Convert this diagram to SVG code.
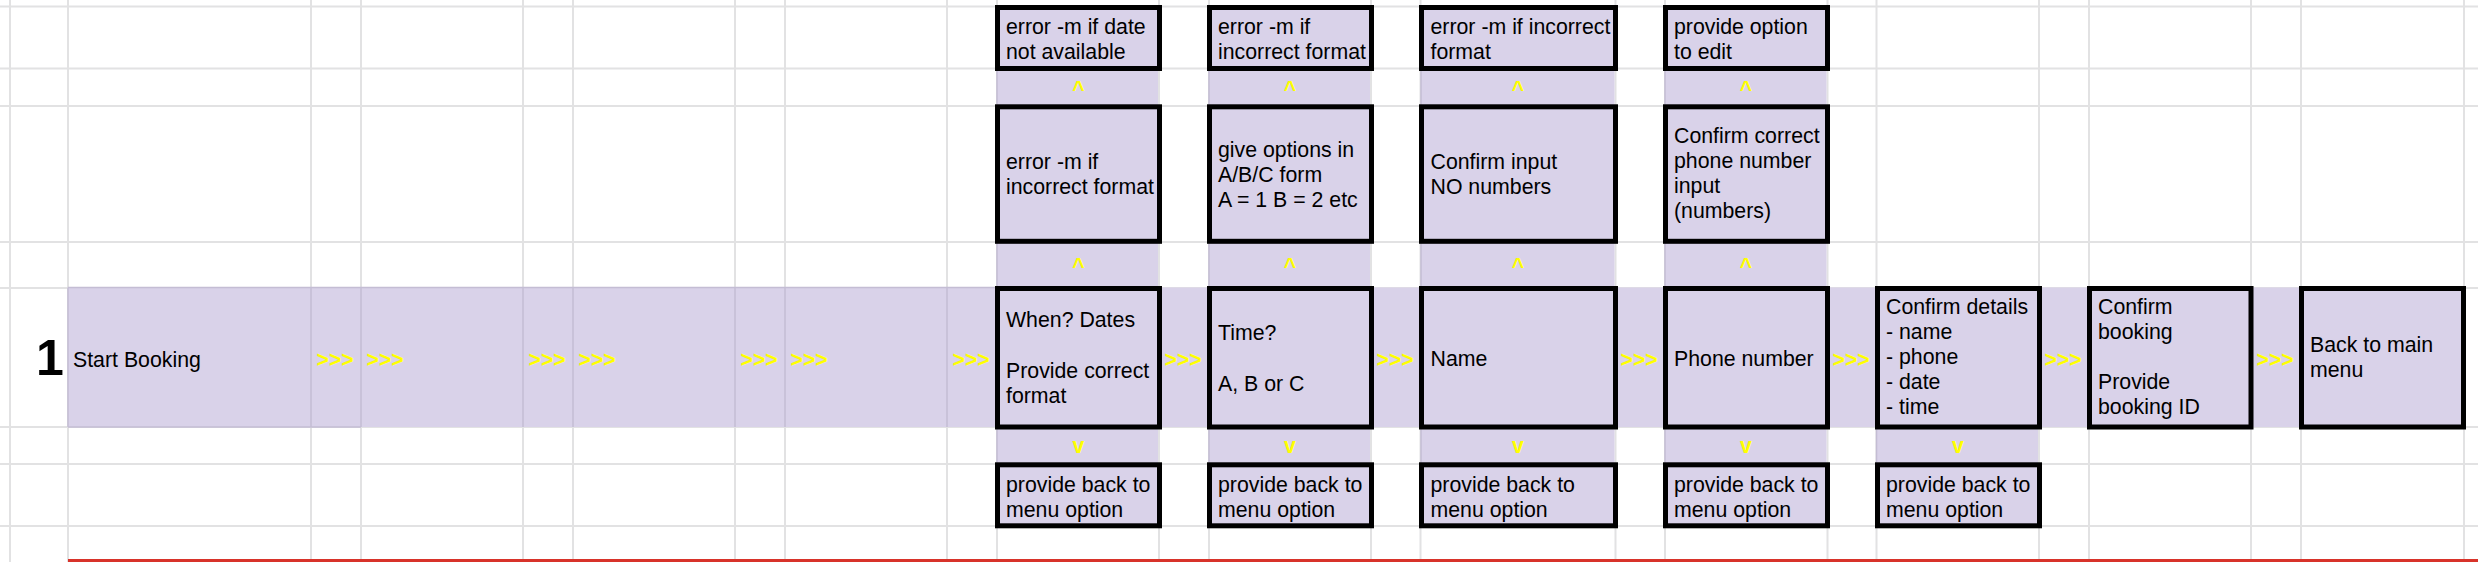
<svg xmlns="http://www.w3.org/2000/svg" width="2478" height="562" viewBox="0 0 2478 562">
<style>
  .grid { stroke: #e2e2e3; stroke-width: 2; }
  .fill { fill: #d9d2e9; }
  .cellb { stroke: #c4bdd4; stroke-width: 1.5; }
  .box { fill: #d9d2e9; stroke: #000; stroke-width: 5; }
  .t { font-family: "Liberation Sans", Arial, sans-serif; font-size: 21.3px; fill: #000; }
  .arr { font-family: "Liberation Sans", Arial, sans-serif; font-size: 21.3px; font-weight: bold; fill: #ffff00; }
  .arrc { font-family: "Liberation Sans", Arial, sans-serif; font-size: 21.3px; font-weight: bold; fill: #ffff00; text-anchor: middle; }
  .num { font-family: "Liberation Sans", Arial, sans-serif; font-size: 50px; font-weight: bold; fill: #000; }
</style>
<rect x="0" y="0" width="2478" height="562" fill="#ffffff"/>
<g id="gridlines">
  <path class="grid" d="M10 0V562 M68 0V562 M311 0V562 M361 0V562 M523 0V562 M573 0V562 M735 0V562 M785 0V562 M947 0V562 M997 0V562 M1159 0V562 M1209 0V562 M1371 0V562 M1420.5 0V562 M1615.5 0V562 M1665 0V562 M1827.5 0V562 M1876.5 0V562 M2039 0V562 M2089 0V562 M2251 0V562 M2301 0V562 M2464 0V562"/>
  <path class="grid" d="M0 6.5H2478 M0 68.5H2478 M0 106H2478 M0 242H2478 M0 288H2478 M0 427H2478 M0 464H2478 M0 526H2478"/>
</g>
<g id="fills">
  <rect class="fill" x="68" y="287.5" width="2397" height="139.5"/>
  <rect class="fill" x="997" y="6" width="161" height="522"/>
  <rect class="fill" x="1209" y="6" width="161" height="522"/>
  <rect class="fill" x="1421" y="6" width="193.5" height="522"/>
  <rect class="fill" x="1665" y="6" width="161.5" height="522"/>
  <rect class="fill" x="1876.5" y="288" width="161.5" height="240"/>
  <path class="cellb" d="M68 287.5H997 M68 287.5V427 M311 288V427 M361 288V427 M523 288V427 M573 288V427 M735 288V427 M785 288V427 M947 288V427 M997 6V528 M1209 6V528 M1421 6V528 M1665 6V528 M1876.5 288V528 M68 427H361"/>
</g>
<g id="row-number">
  <text class="num" x="36" y="375">1</text>
</g>
<g id="node-start">
  <text class="t" x="73" y="366.5">Start Booking</text>
</g>
<g id="node-date-error">
  <rect class="box" x="997.5" y="7.5" width="162" height="61"/>
  <text class="t"><tspan x="1006" y="34.3">error -m if date</tspan><tspan x="1006" y="59.3">not available</tspan></text>
</g>
<g id="node-date-format">
  <rect class="box" x="997.5" y="106.8" width="162" height="134.5"/>
  <text class="t"><tspan x="1006" y="168.8">error -m if</tspan><tspan x="1006" y="194">incorrect format</tspan></text>
</g>
<g id="node-when">
  <rect class="box" x="997.5" y="288.5" width="162" height="138.5"/>
  <text class="t"><tspan x="1006" y="327">When? Dates</tspan><tspan x="1006" y="377.8">Provide correct</tspan><tspan x="1006" y="403.2">format</tspan></text>
</g>
<g id="node-date-back">
  <rect class="box" x="997.5" y="464.8" width="162" height="61"/>
  <text class="t"><tspan x="1006" y="491.7">provide back to</tspan><tspan x="1006" y="516.7">menu option</tspan></text>
</g>
<g id="node-time-error">
  <rect class="box" x="1209.5" y="7.5" width="162" height="61"/>
  <text class="t"><tspan x="1218" y="34.3">error -m if</tspan><tspan x="1218" y="59.3">incorrect format</tspan></text>
</g>
<g id="node-time-options">
  <rect class="box" x="1209.5" y="106.8" width="162" height="134.5"/>
  <text class="t"><tspan x="1218" y="156.6">give options in</tspan><tspan x="1218" y="181.8">A/B/C form</tspan><tspan x="1218" y="207">A = 1 B = 2 etc</tspan></text>
</g>
<g id="node-time">
  <rect class="box" x="1209.5" y="288.5" width="162" height="138.5"/>
  <text class="t"><tspan x="1218" y="340">Time?</tspan><tspan x="1218" y="390.6">A, B or C</tspan></text>
</g>
<g id="node-time-back">
  <rect class="box" x="1209.5" y="464.8" width="162" height="61"/>
  <text class="t"><tspan x="1218" y="491.7">provide back to</tspan><tspan x="1218" y="516.7">menu option</tspan></text>
</g>
<g id="node-name-error">
  <rect class="box" x="1421.5" y="7.5" width="194" height="61"/>
  <text class="t"><tspan x="1430.5" y="34.3">error -m if incorrect</tspan><tspan x="1430.5" y="59.3">format</tspan></text>
</g>
<g id="node-name-confirm">
  <rect class="box" x="1421.5" y="106.8" width="194" height="134.5"/>
  <text class="t"><tspan x="1430.5" y="169">Confirm input</tspan><tspan x="1430.5" y="194.4">NO numbers</tspan></text>
</g>
<g id="node-name">
  <rect class="box" x="1421.5" y="288.5" width="194" height="138.5"/>
  <text class="t" x="1430.5" y="365.5">Name</text>
</g>
<g id="node-name-back">
  <rect class="box" x="1421.5" y="464.8" width="194" height="61"/>
  <text class="t"><tspan x="1430.5" y="491.7">provide back to</tspan><tspan x="1430.5" y="516.7">menu option</tspan></text>
</g>
<g id="node-phone-edit">
  <rect class="box" x="1665.5" y="7.5" width="162" height="61"/>
  <text class="t"><tspan x="1674" y="34.3">provide option</tspan><tspan x="1674" y="59.3">to edit</tspan></text>
</g>
<g id="node-phone-confirm">
  <rect class="box" x="1665.5" y="106.8" width="162" height="134.5"/>
  <text class="t"><tspan x="1674" y="143.3">Confirm correct</tspan><tspan x="1674" y="168.3">phone number</tspan><tspan x="1674" y="193.3">input</tspan><tspan x="1674" y="218.3">(numbers)</tspan></text>
</g>
<g id="node-phone">
  <rect class="box" x="1665.5" y="288.5" width="162" height="138.5"/>
  <text class="t" x="1674" y="365.5">Phone number</text>
</g>
<g id="node-phone-back">
  <rect class="box" x="1665.5" y="464.8" width="162" height="61"/>
  <text class="t"><tspan x="1674" y="491.7">provide back to</tspan><tspan x="1674" y="516.7">menu option</tspan></text>
</g>
<g id="node-confirm-details">
  <rect class="box" x="1877.5" y="288.5" width="162" height="138.5"/>
  <text class="t"><tspan x="1886" y="314.3">Confirm details</tspan><tspan x="1886" y="339.3">- name</tspan><tspan x="1886" y="364.3">- phone</tspan><tspan x="1886" y="389.3">- date</tspan><tspan x="1886" y="414.3">- time</tspan></text>
</g>
<g id="node-details-back">
  <rect class="box" x="1877.5" y="464.8" width="162" height="61"/>
  <text class="t"><tspan x="1886" y="491.7">provide back to</tspan><tspan x="1886" y="516.7">menu option</tspan></text>
</g>
<g id="node-confirm-booking">
  <rect class="box" x="2089.5" y="288.5" width="161.5" height="138.5"/>
  <text class="t"><tspan x="2098" y="314.3">Confirm</tspan><tspan x="2098" y="339.3">booking</tspan><tspan x="2098" y="389.3">Provide</tspan><tspan x="2098" y="414.3">booking ID</tspan></text>
</g>
<g id="node-back-main">
  <rect class="box" x="2301.5" y="288.5" width="162" height="138.5"/>
  <text class="t"><tspan x="2310" y="352.3">Back to main</tspan><tspan x="2310" y="377.3">menu</tspan></text>
</g>
<g id="connectors">
  <text class="arr" x="316.5" y="366.5">&gt;&gt;&gt;</text>
  <text class="arr" x="366.5" y="366.5">&gt;&gt;&gt;</text>
  <text class="arr" x="528.5" y="366.5">&gt;&gt;&gt;</text>
  <text class="arr" x="578.5" y="366.5">&gt;&gt;&gt;</text>
  <text class="arr" x="740.5" y="366.5">&gt;&gt;&gt;</text>
  <text class="arr" x="790.5" y="366.5">&gt;&gt;&gt;</text>
  <text class="arr" x="952.5" y="366.5">&gt;&gt;&gt;</text>
  <text class="arr" x="1164.5" y="366.5">&gt;&gt;&gt;</text>
  <text class="arr" x="1376.5" y="366.5">&gt;&gt;&gt;</text>
  <text class="arr" x="1620.5" y="366.5">&gt;&gt;&gt;</text>
  <text class="arr" x="1832.5" y="366.5">&gt;&gt;&gt;</text>
  <text class="arr" x="2044.5" y="366.5">&gt;&gt;&gt;</text>
  <text class="arr" x="2256.5" y="366.5">&gt;&gt;&gt;</text>
  <text class="arrc" x="1078.5" y="96.5">^</text>
  <text class="arrc" x="1290" y="96.5">^</text>
  <text class="arrc" x="1518" y="96.5">^</text>
  <text class="arrc" x="1746" y="96.5">^</text>
  <text class="arrc" x="1078.5" y="274.2">^</text>
  <text class="arrc" x="1290" y="274.2">^</text>
  <text class="arrc" x="1518" y="274.2">^</text>
  <text class="arrc" x="1746" y="274.2">^</text>
  <text class="arrc" x="1078.5" y="453.3">v</text>
  <text class="arrc" x="1290" y="453.3">v</text>
  <text class="arrc" x="1518" y="453.3">v</text>
  <text class="arrc" x="1746" y="453.3">v</text>
  <text class="arrc" x="1958" y="453.3">v</text>
</g>
<rect id="red-border" x="68" y="559" width="2410" height="3" fill="#d8332a"/>
</svg>
